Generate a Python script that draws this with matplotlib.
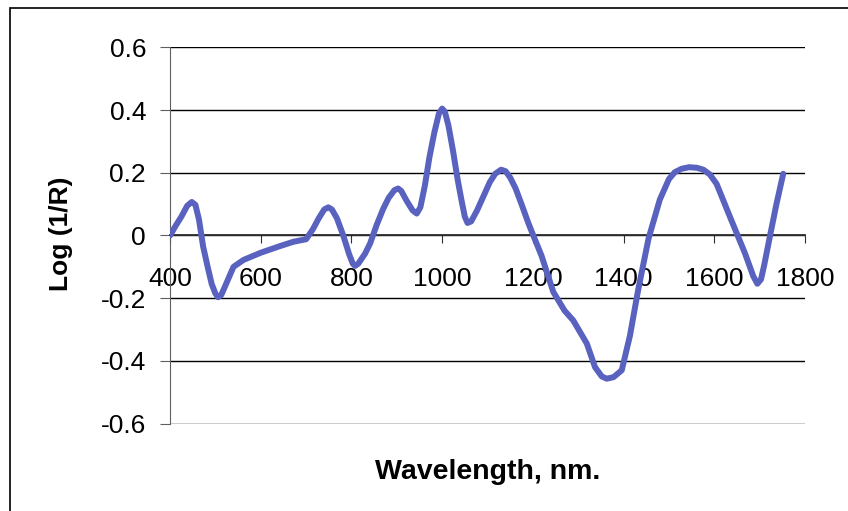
import numpy as np
import matplotlib
matplotlib.use('Agg')
from matplotlib import pyplot as plt
from matplotlib.patches import Rectangle

plt.rcParams['font.family'] = ['Liberation Sans', 'DejaVu Sans']

# values
wavelength = [400, 412, 425, 438, 448, 456, 464, 473, 483, 492, 500, 506, 513, 525,
              540, 562, 600, 640, 672, 700, 715, 728, 740, 749, 757, 768, 782, 795,
              803, 808, 815, 830, 841, 856, 870, 882, 895, 903, 910, 922, 935, 944,
              952, 962, 972, 983, 993, 1000, 1006, 1014, 1024, 1034, 1043, 1050, 1056,
              1064, 1077, 1091, 1105, 1117, 1130, 1140, 1150, 1162, 1175, 1190, 1201,
              1219, 1245, 1270, 1289, 1319, 1337, 1352, 1363, 1378, 1396, 1414, 1432,
              1455, 1480, 1500, 1513, 1528, 1545, 1562, 1576, 1590, 1605, 1635, 1668,
              1686, 1695, 1703, 1710, 1723, 1737, 1752]
log_inv_r = [0.0, 0.03, 0.06, 0.095, 0.107, 0.098, 0.05, -0.035, -0.1, -0.155, -0.185,
             -0.197, -0.19, -0.15, -0.1, -0.078, -0.055, -0.035, -0.02, -0.012, 0.02,
             0.055, 0.083, 0.09, 0.083, 0.055, 0.0, -0.06, -0.09, -0.097, -0.09,
             -0.058, -0.026, 0.035, 0.085, 0.12, 0.145, 0.15, 0.142, 0.11, 0.08,
             0.07, 0.09, 0.16, 0.25, 0.33, 0.39, 0.405, 0.395, 0.35, 0.27, 0.18,
             0.11, 0.06, 0.04, 0.045, 0.08, 0.125, 0.17, 0.197, 0.21, 0.205, 0.185,
             0.15, 0.1, 0.04, 0.0, -0.064, -0.18, -0.24, -0.271, -0.345, -0.42,
             -0.45, -0.457, -0.452, -0.43, -0.32, -0.175, -0.01, 0.115, 0.18, 0.202,
             0.213, 0.218, 0.216, 0.21, 0.195, 0.165, 0.058, -0.058, -0.13, -0.154,
             -0.14, -0.095, 0.0, 0.1, 0.197]

x_ticks = [400, 600, 800, 1000, 1200, 1400, 1600, 1800]
y_ticks = [-0.6, -0.4, -0.2, 0, 0.2, 0.4, 0.6]
y_labels = ['-0.6', '-0.4', '-0.2', '0', '0.2', '0.4', '0.6']

W, H = 848, 511
fig = plt.figure(figsize=(W / 100, H / 100), dpi=100)
fig.patch.set_facecolor('white')
fig.patches.append(Rectangle((10 / W, -0.1), 1.2, 1 - 8 / H + 0.1,
                             transform=fig.transFigure, fill=False,
                             ec='black', lw=1.2))

ax = fig.add_axes([170 / W, 1 - 423.5 / H, 635 / W, 376 / H])
ax.plot(wavelength, log_inv_r, color='#5a62c0', lw=4.3, zorder=5,
        solid_joinstyle='round', solid_capstyle='round')

ax.set_xlim(400, 1800)
ax.set_ylim(-0.6, 0.6)
ax.set_xticks(x_ticks)
ax.set_yticks(y_ticks)
ax.set_yticklabels(y_labels)

ax.spines['top'].set_visible(False)
ax.spines['right'].set_visible(False)
ax.spines['left'].set_color('#606060')
ax.spines['bottom'].set_position(('data', 0))
ax.spines['bottom'].set_color('#303030')
ax.spines['bottom'].set_linewidth(1.3)
ax.spines['bottom'].set_zorder(3)

ax.yaxis.grid(True, color='black', lw=1.0)
ax.set_axisbelow(True)
ax.tick_params(axis='y', direction='out', length=7.2, color='#606060',
               labelsize=19, pad=10)
ax.tick_params(axis='x', direction='out', length=6, color='#303030',
               labelsize=19, pad=17)

fig.text(488 / W, 1 - 472 / H, 'Wavelength, nm.', ha='center', va='center',
         fontsize=20.5, fontweight='bold')
fig.text(61 / W, 1 - 234 / H, 'Log (1/R)', ha='center', va='center',
         rotation=90, fontsize=19, fontweight='bold')

fig.savefig('out.png', dpi=100)
